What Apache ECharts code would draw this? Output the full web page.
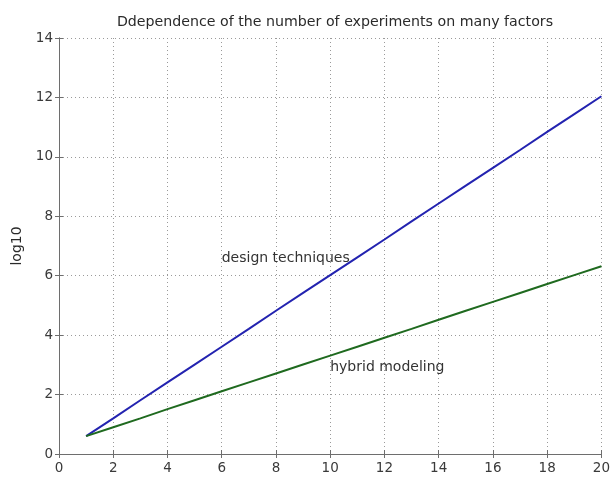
<!DOCTYPE html>
<html>
<head>
<meta charset="utf-8">
<script src="https://cdn.jsdelivr.net/npm/echarts@6/dist/echarts.min.js"></script>
<style>html,body{margin:0;padding:0;background:#fff}#c{width:613px;height:479px}</style>
</head>
<body>
<div id="c"></div>
<script>
const titleText = 'Ddependence of the number of experiments on many factors';
const yLabel = 'log10';
const factors = [1,2,3,4,5,6,7,8,9,10,11,12,13,14,15,16,17,18,19,20];
const designTechniques = [0.60,1.20,1.81,2.41,3.01,3.61,4.21,4.82,5.42,6.02,6.62,7.22,7.83,8.43,9.03,9.63,10.23,10.84,11.44,12.04];
const hybridModeling = [0.60,0.90,1.20,1.51,1.81,2.11,2.41,2.71,3.01,3.31,3.61,3.91,4.21,4.52,4.82,5.12,5.42,5.72,6.02,6.32];
const annotations = [[6, 6.6, 'design techniques'], [10, 2.9, 'hybrid modeling']];

const font = 'DejaVu Sans, Liberation Sans, sans-serif';
const chart = echarts.init(document.getElementById('c'));
const gridLine = {show: true, lineStyle: {color: '#9a9a9a', type: [1, 3], width: 1}};
const axLine = {show: true, lineStyle: {color: '#6e6e6e', width: 1}};
const tick = {show: true, inside: true, length: 4, lineStyle: {color: '#6e6e6e'}};
chart.setOption({
  animation: false,
  backgroundColor: '#ffffff',
  title: {text: titleText, left: 330, textAlign: 'center', top: 10,
    textStyle: {fontFamily: font, fontSize: 14.2, fontWeight: 'normal', color: '#2a2a2a'}},
  grid: {left: 59, right: 7, top: 38, bottom: 25},
  xAxis: [
    {type: 'value', min: 0, max: 20, interval: 2, position: 'bottom',
      axisLine: axLine, axisTick: tick, splitLine: gridLine,
      axisLabel: {fontFamily: font, fontSize: 13.5, color: '#3a3a3a', margin: 7}},
    {type: 'value', min: 0, max: 20, interval: 2, position: 'top',
      axisLine: axLine, axisTick: tick, splitLine: {show: false}, axisLabel: {show: false}}
  ],
  yAxis: [
    {type: 'value', min: 0, max: 14, interval: 2, position: 'left',
      name: yLabel, nameLocation: 'middle', nameGap: 35,
      nameTextStyle: {fontFamily: font, fontSize: 14, color: '#2a2a2a'},
      axisLine: axLine, axisTick: tick, splitLine: gridLine,
      axisLabel: {fontFamily: font, fontSize: 13.5, color: '#3a3a3a', margin: 6}},
    {type: 'value', min: 0, max: 14, interval: 2, position: 'right',
      axisLine: axLine, axisTick: tick, splitLine: {show: false}, axisLabel: {show: false}}
  ],
  series: [
    {type: 'line', name: 'design techniques', data: factors.map((x, i) => [x, designTechniques[i]]),
      showSymbol: false, lineStyle: {color: '#2323b0', width: 2}, z: 3},
    {type: 'line', name: 'hybrid modeling', data: factors.map((x, i) => [x, hybridModeling[i]]),
      showSymbol: false, lineStyle: {color: '#1f6a1f', width: 2}, z: 3},
    {type: 'scatter', data: annotations, symbolSize: 0, silent: true, z: 4,
      itemStyle: {opacity: 1},
      label: {show: true, position: 'right', distance: 0, formatter: p => p.data[2],
        fontFamily: font, fontSize: 14, color: '#333'}}
  ]
});
</script>
</body>
</html>
